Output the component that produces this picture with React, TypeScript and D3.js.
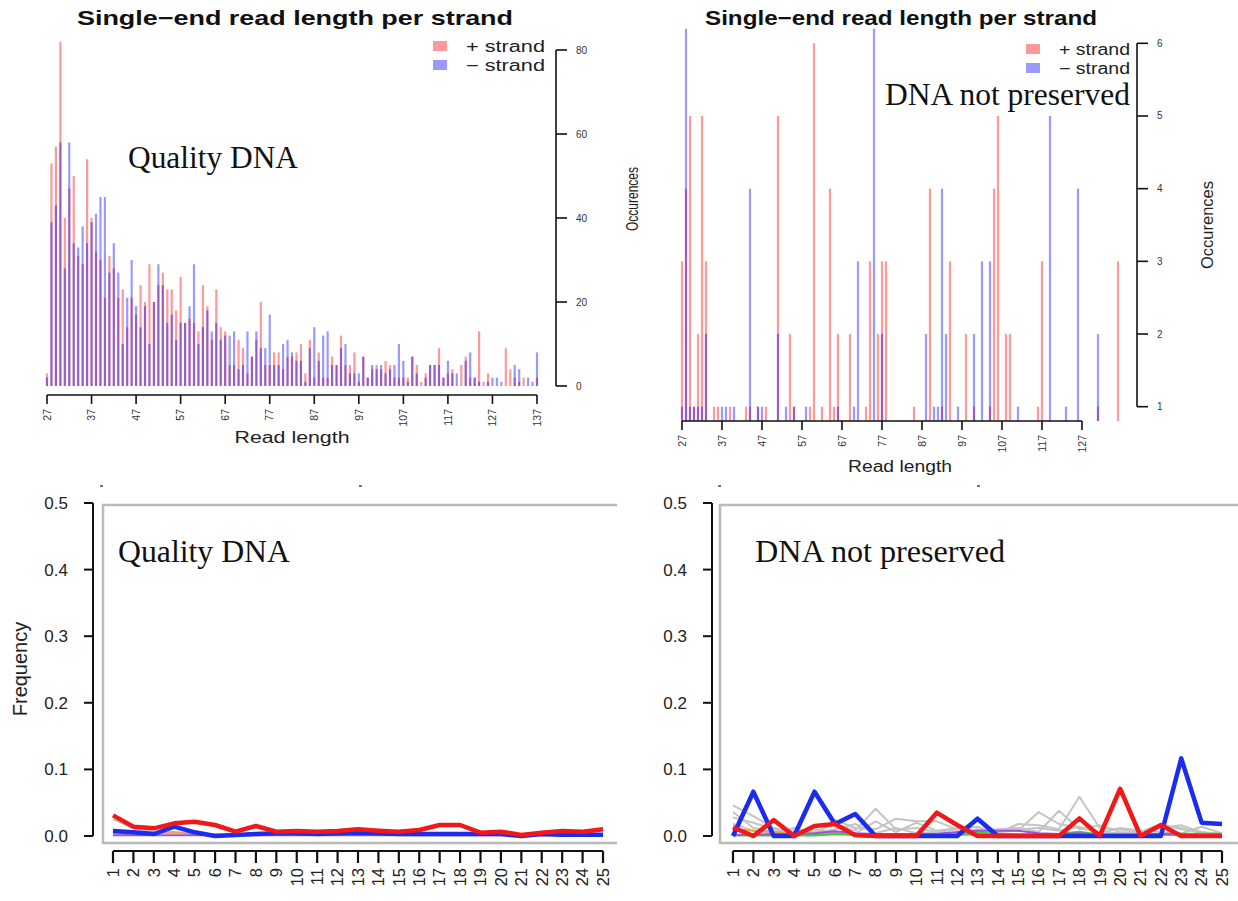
import React, { useEffect, useRef } from 'react';
import * as d3 from 'd3';

const W = 1238;
const H = 901;

// ---- top panels: read length histograms (lengths 27..137) ----
const readLengths = d3.range(27, 138);

const qualityPlus = [
  3, 53, 57, 82, 40, 47, 50, 31, 29, 54,
  40, 32, 30, 21, 31, 28, 21, 23, 14, 21,
  17, 24, 20, 29, 20, 24, 27, 23, 23, 18,
  26, 15, 16, 15, 13, 24, 19, 11, 23, 14,
  13, 5, 5, 11, 9, 3, 7, 11, 20, 5,
  5, 8, 8, 4, 7, 7, 8, 10, 3, 11,
  2, 8, 2, 2, 7, 5, 12, 5, 5, 8,
  1, 7, 2, 4, 5, 4, 6, 5, 2, 2,
  2, 2, 7, 5, 1, 3, 5, 5, 9, 2,
  3, 4, 0, 5, 7, 2, 2, 13, 1, 3,
  0, 0, 0, 9, 4, 2, 1, 2, 0, 0, 2,
];
const qualityMinus = [
  2, 39, 43, 58, 28, 58, 34, 33, 38, 34,
  39, 41, 45, 45, 27, 34, 27, 10, 21, 30,
  19, 14, 19, 10, 20, 29, 24, 15, 17, 11,
  15, 15, 19, 29, 10, 14, 18, 13, 15, 11,
  12, 12, 13, 4, 5, 13, 7, 13, 9, 9,
  17, 5, 5, 10, 11, 8, 6, 6, 1, 9,
  14, 6, 12, 13, 5, 5, 9, 10, 3, 3,
  3, 7, 2, 5, 4, 5, 3, 4, 5, 10,
  6, 1, 7, 3, 0, 2, 5, 5, 5, 2,
  6, 3, 3, 0, 6, 8, 2, 1, 0, 1,
  2, 2, 1, 0, 0, 5, 4, 0, 2, 1, 8,
];
const degradedPlus = [
  3, 4, 5, 1, 2, 5, 3, 0, 1, 1,
  0, 0, 1, 0, 0, 0, 1, 1, 0, 1,
  0, 1, 0, 0, 5, 0, 0, 2, 1, 0,
  0, 0, 1, 6, 0, 1, 0, 4, 1, 2,
  0, 0, 2, 0, 0, 0, 1, 3, 0, 2,
  3, 3, 0, 0, 0, 0, 0, 0, 1, 0,
  0, 0, 4, 0, 0, 1, 0, 3, 0, 0,
  0, 2, 0, 1, 0, 0, 0, 1, 4, 5,
  0, 2, 2, 0, 0, 0, 0, 0, 0, 1,
  3, 0, 0, 0, 0, 0, 0, 0, 0, 0,
  0, 0, 0, 0, 1, 0, 0, 0, 0, 3, 0,
];
const degradedMinus = [
  1, 7, 1, 1, 1, 1, 2, 0, 0, 0,
  1, 1, 0, 1, 0, 0, 0, 4, 0, 1,
  1, 0, 0, 0, 2, 0, 1, 0, 1, 0,
  0, 1, 0, 0, 0, 0, 0, 0, 0, 1,
  0, 0, 0, 1, 3, 0, 0, 0, 7, 0,
  2, 0, 0, 0, 0, 0, 0, 0, 0, 0,
  0, 2, 0, 1, 1, 4, 2, 0, 0, 1,
  0, 0, 0, 2, 0, 3, 0, 3, 0, 0,
  0, 0, 0, 0, 1, 0, 0, 0, 0, 0,
  0, 0, 5, 0, 0, 0, 1, 0, 0, 4,
  0, 0, 0, 0, 2, 0, 0, 0, 0, 0, 0,
];
const lengthTicksLeft = d3.range(27, 138, 10);
const lengthTicksRight = d3.range(27, 128, 10);
const countTicksLeft = [0, 20, 40, 60, 80];
const countTicksRight = [1, 2, 3, 4, 5, 6];

// ---- bottom panels: frequency per position 1..25 ----
const positions = d3.range(1, 26);
const freqTicks = [0, 0.1, 0.2, 0.3, 0.4, 0.5];

const qualityRed = [0.031, 0.014, 0.0115, 0.019, 0.0215, 0.0165, 0.0065, 0.015, 0.0065, 0.0075, 0.0065, 0.0075, 0.01, 0.008, 0.0065, 0.009, 0.0165, 0.0165, 0.005, 0.0065, 0.0015, 0.005, 0.0075, 0.0065, 0.01];
const qualityBlue = [0.0075, 0.0055, 0.003, 0.014, 0.0055, 0.0, 0.0015, 0.003, 0.004, 0.004, 0.003, 0.004, 0.005, 0.004, 0.003, 0.003, 0.003, 0.003, 0.003, 0.003, 0.0, 0.003, 0.002, 0.002, 0.002];
const qualityGray = [0.025, 0.012, 0.006, 0.004, 0.003, 0.003, 0.002, 0.003, 0.002, 0.002, 0.002, 0.003, 0.002, 0.002, 0.002, 0.002, 0.003, 0.002, 0.002, 0.002, 0.001, 0.002, 0.002, 0.002, 0.002];
const qualityOrange = [0.004, 0.003, 0.004, 0.006, 0.003, 0.002, 0.002, 0.002, 0.002, 0.002, 0.002, 0.002, 0.002, 0.002, 0.002, 0.002, 0.002, 0.002, 0.002, 0.002, 0.002, 0.002, 0.002, 0.002, 0.002];
const qualityPurple = [0.001, 0.001, 0.001, 0.001, 0.001, 0.001, 0.001, 0.001, 0.001, 0.001, 0.001, 0.001, 0.001, 0.001, 0.001, 0.001, 0.001, 0.001, 0.001, 0.001, 0.001, 0.001, 0.001, 0.001, 0.001];

const degradedRed = [0.013, 0.0, 0.024, 0.0, 0.015, 0.018, 0.001, 0.0, 0.0, 0.0, 0.035, 0.0165, 0.0, 0.0, 0.0, 0.0, 0.0, 0.0265, 0.0, 0.071, 0.0, 0.0165, 0.0, 0.0, 0.0];
const degradedBlue = [0.0, 0.0665, 0.0, 0.0, 0.0665, 0.018, 0.033, 0.0, 0.0, 0.0, 0.0, 0.0, 0.026, 0.0, 0.0, 0.0, 0.0, 0.0, 0.0, 0.0, 0.0, 0.0, 0.1165, 0.02, 0.018];
const degradedGray1 = [0.046, 0.03, 0.012, 0.004, 0.006, 0.018, 0.008, 0.041, 0.01, 0.012, 0.006, 0.01, 0.008, 0.006, 0.008, 0.036, 0.018, 0.012, 0.006, 0.004, 0.006, 0.018, 0.01, 0.006, 0.002];
const degradedGray2 = [0.036, 0.012, 0.006, 0.008, 0.004, 0.024, 0.012, 0.01, 0.026, 0.022, 0.022, 0.01, 0.014, 0.004, 0.018, 0.016, 0.01, 0.059, 0.012, 0.01, 0.004, 0.014, 0.012, 0.004, 0.004];
const degradedGray3 = [0.028, 0.02, 0.01, 0.004, 0.01, 0.006, 0.004, 0.022, 0.006, 0.02, 0.008, 0.012, 0.006, 0.01, 0.012, 0.006, 0.038, 0.01, 0.016, 0.006, 0.002, 0.012, 0.016, 0.006, 0.002];
const degradedGray4 = [0.018, 0.008, 0.004, 0.012, 0.004, 0.01, 0.018, 0.004, 0.012, 0.004, 0.006, 0.004, 0.01, 0.006, 0.01, 0.012, 0.008, 0.014, 0.004, 0.012, 0.008, 0.006, 0.004, 0.014, 0.004];
const degradedOrange = [0.01, 0.008, 0.006, 0.004, 0.003, 0.004, 0.003, 0.003, 0.002, 0.002, 0.002, 0.002, 0.002, 0.002, 0.002, 0.002, 0.002, 0.002, 0.002, 0.002, 0.002, 0.002, 0.002, 0.002, 0.002];
const degradedPurple = [0.002, 0.002, 0.003, 0.003, 0.004, 0.007, 0.004, 0.003, 0.003, 0.003, 0.003, 0.006, 0.008, 0.008, 0.008, 0.004, 0.003, 0.004, 0.002, 0.002, 0.002, 0.003, 0.002, 0.002, 0.002];
const degradedGreen = [0.001, 0.001, 0.001, 0.001, 0.001, 0.003, 0.002, 0.002, 0.001, 0.001, 0.001, 0.002, 0.005, 0.003, 0.002, 0.002, 0.003, 0.006, 0.002, 0.002, 0.002, 0.003, 0.003, 0.003, 0.003];

const SANS = '"Liberation Sans", Arial, Helvetica, sans-serif';
const SERIF = '"Liberation Serif", "Times New Roman", serif';
const PLUS_COLOR = 'rgb(255,0,0)';
const MINUS_COLOR = 'rgb(0,0,255)';
const BAR_OPACITY = 0.4;

function drawHistogram(svg, cfg) {
  const g = svg.append('g');
  const x = d3.scaleLinear().domain(cfg.xDomain).range(cfg.xRange);
  const y = d3.scaleLinear().domain(cfg.yDomain).range(cfg.yRange);
  const floorY = cfg.floorY;
  const ceilY = cfg.ceilY;

  // bars: + strand first, - strand over it (overlap shows purple)
  [[cfg.plus, PLUS_COLOR], [cfg.minus, MINUS_COLOR]].forEach(([vals, color]) => {
    g.selectAll(null)
      .data(readLengths.map((len, i) => ({ len, v: vals[i] })).filter(d => d.v > 0))
      .enter()
      .append('rect')
      .attr('x', d => x(d.len) - 1.1)
      .attr('width', 2.2)
      .attr('y', d => Math.max(y(d.v), ceilY))
      .attr('height', d => floorY - Math.max(y(d.v), ceilY))
      .attr('fill', color)
      .attr('opacity', BAR_OPACITY);
  });

  // x axis
  const xt = cfg.xTicks;
  g.append('line')
    .attr('x1', x(xt[0])).attr('x2', x(xt[xt.length - 1]))
    .attr('y1', cfg.xAxisY).attr('y2', cfg.xAxisY)
    .attr('stroke', '#111').attr('stroke-width', 1.6);
  g.selectAll(null).data(xt).enter().append('line')
    .attr('x1', d => x(d)).attr('x2', d => x(d))
    .attr('y1', cfg.xAxisY).attr('y2', cfg.xAxisY + 9)
    .attr('stroke', '#111').attr('stroke-width', 1.6);
  g.selectAll(null).data(xt).enter().append('text')
    .attr('transform', d => `translate(${x(d)},${cfg.xAxisY + 14}) rotate(-90)`)
    .attr('dy', '0.35em')
    .attr('text-anchor', 'end')
    .style('font-family', SANS)
    .style('font-size', '10.5px')
    .style('fill', '#333')
    .text(d => d);

  // y axis on the right
  const yt = cfg.yTicks;
  g.append('line')
    .attr('x1', cfg.yAxisX).attr('x2', cfg.yAxisX)
    .attr('y1', y(yt[0])).attr('y2', y(yt[yt.length - 1]))
    .attr('stroke', '#111').attr('stroke-width', 1.6);
  g.selectAll(null).data(yt).enter().append('line')
    .attr('x1', cfg.yAxisX).attr('x2', cfg.yAxisX + 11)
    .attr('y1', d => y(d)).attr('y2', d => y(d))
    .attr('stroke', '#111').attr('stroke-width', 1.6);
  g.selectAll(null).data(yt).enter().append('text')
    .attr('x', cfg.yAxisX + 20)
    .attr('y', d => y(d))
    .attr('dy', '0.35em')
    .style('font-family', SANS)
    .style('font-size', '10px')
    .style('fill', '#333')
    .text(d => d);

  // title
  g.append('text')
    .attr('x', cfg.titleX).attr('y', 25)
    .attr('text-anchor', 'middle')
    .attr('textLength', cfg.titleLen)
    .attr('lengthAdjust', 'spacingAndGlyphs')
    .style('font-family', SANS)
    .style('font-weight', 'bold')
    .style('font-size', '21px')
    .style('fill', '#111')
    .text('Single\u2212end read length per strand');

  // legend
  const lg = cfg.legend;
  [['+ strand', PLUS_COLOR, 0], ['\u2212 strand', MINUS_COLOR, 1]].forEach(([label, color, i]) => {
    g.append('rect')
      .attr('x', lg.x).attr('y', lg.y + i * lg.gap - 5)
      .attr('width', 14).attr('height', 10)
      .attr('fill', color).attr('opacity', BAR_OPACITY);
    g.append('text')
      .attr('x', lg.x + 33).attr('y', lg.y + i * lg.gap + 6)
      .attr('textLength', lg.textLen)
      .attr('lengthAdjust', 'spacingAndGlyphs')
      .style('font-family', SANS)
      .style('font-size', '16px')
      .style('fill', '#222')
      .text(label);
  });

  // axis labels
  g.append('text')
    .attr('x', cfg.xLabelX).attr('y', cfg.xLabelY)
    .attr('text-anchor', 'middle')
    .attr('textLength', cfg.xLabelLen)
    .attr('lengthAdjust', 'spacingAndGlyphs')
    .style('font-family', SANS)
    .style('font-size', '16px')
    .style('fill', '#222')
    .text('Read length');
  g.append('text')
    .attr('transform', `translate(${cfg.yLabelX},${cfg.yLabelY}) rotate(-90)`)
    .attr('text-anchor', 'middle')
    .attr('dy', '0.35em')
    .attr('textLength', cfg.yLabelLen)
    .attr('lengthAdjust', 'spacingAndGlyphs')
    .style('font-family', SANS)
    .style('font-size', cfg.yLabelSize)
    .style('fill', '#222')
    .text('Occurences');
}

function drawFrequency(svg, cfg) {
  const g = svg.append('g');
  const x = d3.scaleLinear().domain([1, 25]).range(cfg.xRange);
  const y = d3.scaleLinear().domain([0, 0.5]).range([836, 503]);

  // grey frame
  g.append('path')
    .attr('d', `M${cfg.boxRight},505 H${cfg.boxLeft} V843 H${cfg.boxRight}`)
    .attr('fill', 'none')
    .attr('stroke', '#b9b9b9')
    .attr('stroke-width', 2.5);

  // y axis
  g.append('line')
    .attr('x1', cfg.axisX).attr('x2', cfg.axisX)
    .attr('y1', y(0)).attr('y2', y(0.5))
    .attr('stroke', '#111').attr('stroke-width', 2);
  g.selectAll(null).data(freqTicks).enter().append('line')
    .attr('x1', cfg.axisX - 9).attr('x2', cfg.axisX)
    .attr('y1', d => y(d)).attr('y2', d => y(d))
    .attr('stroke', '#111').attr('stroke-width', 2);
  g.selectAll(null).data(freqTicks).enter().append('text')
    .attr('x', cfg.axisX - 25)
    .attr('y', d => y(d))
    .attr('dy', '0.35em')
    .attr('text-anchor', 'end')
    .style('font-family', SANS)
    .style('font-size', '17px')
    .style('fill', '#222')
    .text(d => d3.format('.1f')(d));

  // x axis
  g.append('line')
    .attr('x1', x(1)).attr('x2', x(25))
    .attr('y1', 851).attr('y2', 851)
    .attr('stroke', '#111').attr('stroke-width', 2.2);
  g.selectAll(null).data(positions).enter().append('line')
    .attr('x1', d => x(d)).attr('x2', d => x(d))
    .attr('y1', 851).attr('y2', 863)
    .attr('stroke', '#111').attr('stroke-width', 2.2);
  g.selectAll(null).data(positions).enter().append('text')
    .attr('transform', d => `translate(${x(d)},868) rotate(-90)`)
    .attr('dy', '0.35em')
    .attr('text-anchor', 'end')
    .style('font-family', SANS)
    .style('font-size', '16.5px')
    .style('fill', '#222')
    .text(d => d);

  const line = d3.line().x((d, i) => x(positions[i])).y(d => y(d));
  cfg.series.forEach(s => {
    g.append('path')
      .attr('d', line(s.values))
      .attr('fill', 'none')
      .attr('stroke', s.color)
      .attr('stroke-width', s.width)
      .attr('stroke-linejoin', 'round');
  });

  // small remnant marks above the frame
  cfg.marks.forEach(mx => {
    g.append('line')
      .attr('x1', mx - 1).attr('x2', mx + 2)
      .attr('y1', 486).attr('y2', 486)
      .attr('stroke', '#444').attr('stroke-width', 1.5);
  });
}

function annotate(svg, text, xPos, yPos, len) {
  svg.append('text')
    .attr('x', xPos).attr('y', yPos)
    .attr('textLength', len)
    .attr('lengthAdjust', 'spacingAndGlyphs')
    .style('font-family', SERIF)
    .style('font-size', '31px')
    .style('fill', '#111')
    .text(text);
}

const App = () => {
  const svgRef = useRef(null);

  useEffect(() => {
    const svg = d3.select(svgRef.current);
    svg.selectAll('*').remove();

    svg.append('rect').attr('width', W).attr('height', H).attr('fill', '#fff');

    // top-left: quality DNA histogram
    drawHistogram(svg, {
      xDomain: [27, 137], xRange: [47, 537],
      yDomain: [0, 80], yRange: [386, 50],
      floorY: 386, ceilY: 0,
      plus: qualityPlus, minus: qualityMinus,
      xTicks: lengthTicksLeft, xAxisY: 395,
      yTicks: countTicksLeft, yAxisX: 556,
      titleX: 295, titleLen: 436,
      legend: { x: 433, y: 46, gap: 19, textLen: 79 },
      xLabelX: 292, xLabelY: 443, xLabelLen: 115,
      yLabelX: 632, yLabelY: 199, yLabelSize: '16px', yLabelLen: 64,
    });

    // top-right: degraded DNA histogram
    drawHistogram(svg, {
      xDomain: [27, 127], xRange: [682, 1082],
      yDomain: [1, 6], yRange: [406.7, 43.3],
      floorY: 421, ceilY: 28.8,
      plus: degradedPlus, minus: degradedMinus,
      xTicks: lengthTicksRight, xAxisY: 421,
      yTicks: countTicksRight, yAxisX: 1137,
      titleX: 901, titleLen: 392,
      legend: { x: 1026, y: 49, gap: 19, textLen: 71 },
      xLabelX: 900, xLabelY: 472, xLabelLen: 104,
      yLabelX: 1207, yLabelY: 225, yLabelSize: '17px', yLabelLen: 88,
    });

    annotate(svg, 'Quality DNA', 128, 168, 170);
    annotate(svg, 'DNA not preserved', 885, 105, 245);

    // bottom-left: quality DNA frequencies
    drawFrequency(svg, {
      xRange: [113, 603], axisX: 93, boxLeft: 103, boxRight: 617,
      marks: [101, 360],
      series: [
        { values: qualityGray, color: '#c4c4c4', width: 2 },
        { values: qualityOrange, color: '#f0a040', width: 2 },
        { values: qualityPurple, color: '#a050e0', width: 2 },
        { values: qualityBlue, color: '#1a2cf0', width: 4.5 },
        { values: qualityRed, color: '#f01818', width: 4.5 },
      ],
    });

    // bottom-right: degraded DNA frequencies
    drawFrequency(svg, {
      xRange: [733, 1222], axisX: 712, boxLeft: 720, boxRight: 1240,
      marks: [719, 978],
      series: [
        { values: degradedGray1, color: '#c4c4c4', width: 2 },
        { values: degradedGray2, color: '#c4c4c4', width: 2 },
        { values: degradedGray3, color: '#c4c4c4', width: 2 },
        { values: degradedGray4, color: '#c4c4c4', width: 2 },
        { values: degradedOrange, color: '#f0a040', width: 2 },
        { values: degradedGreen, color: '#40d040', width: 2.5 },
        { values: degradedPurple, color: '#a050e0', width: 2 },
        { values: degradedBlue, color: '#1a2cf0', width: 4.5 },
        { values: degradedRed, color: '#f01818', width: 4.5 },
      ],
    });

    annotate(svg, 'Quality DNA', 118, 562, 172);
    annotate(svg, 'DNA not preserved', 755, 562, 250);

    svg.append('text')
      .attr('transform', 'translate(20,669) rotate(-90)')
      .attr('text-anchor', 'middle')
      .attr('dy', '0.35em')
      .style('font-family', SANS)
      .style('font-size', '20px')
      .style('fill', '#222')
      .text('Frequency');
  }, []);

  return (
    <svg
      ref={svgRef}
      width={W}
      height={H}
      style={{ position: 'absolute', left: 0, top: 0, display: 'block' }}
    />
  );
};

export default App;
